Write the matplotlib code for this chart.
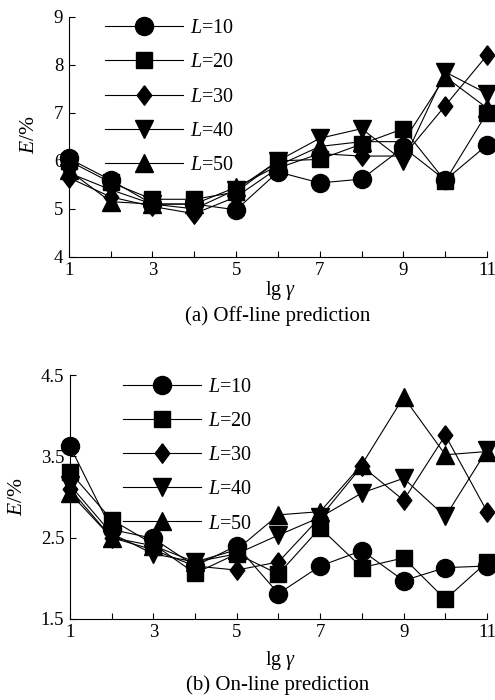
"""Prediction error E versus lg gamma for different L, off-line and on-line."""

import matplotlib
matplotlib.use("Agg")
import matplotlib.pyplot as plt

plt.rcParams['font.family'] = ['Liberation Serif', 'DejaVu Serif']
plt.rcParams['mathtext.fontset'] = 'custom'
plt.rcParams['mathtext.rm'] = 'Liberation Serif'
plt.rcParams['mathtext.it'] = 'Liberation Serif:italic'

# lg gamma values
lg_gamma = [1, 2, 3, 4, 5, 6, 7, 8, 9, 10, 11]
series_names = ['$L$=10', '$L$=20', '$L$=30', '$L$=40', '$L$=50']
# a diamond a bit taller than wide, like the reference
tall_diamond = [(0, 1), (0.75, 0), (0, -1), (-0.75, 0), (0, 1)]
markers = ['o', 's', tall_diamond, 'v', '^']
marker_sizes = [13, 12, 14, 13, 13]

# (a) off-line prediction error, %
offline_L10 = [6.05, 5.6, 5.1, 5.1, 4.98, 5.77, 5.54, 5.62, 6.28, 5.6, 6.33]
offline_L20 = [6.0, 5.55, 5.2, 5.2, 5.35, 6.0, 6.03, 6.35, 6.67, 5.58, 7.0]
offline_L30 = [5.65, 5.25, 5.05, 4.9, 5.25, 5.85, 6.15, 6.1, 6.1, 7.15, 8.2]
offline_L40 = [5.75, 5.4, 5.1, 5.0, 5.4, 6.0, 6.47, 6.67, 6.0, 7.85, 7.4]
offline_L50 = [5.8, 5.15, 5.1, 5.1, 5.45, 5.9, 6.3, 6.4, 6.4, 7.75, 7.1]

# (b) on-line prediction error, %
online_L10 = [3.63, 2.6, 2.49, 2.15, 2.4, 1.81, 2.15, 2.34, 1.97, 2.13, 2.15]
online_L20 = [3.31, 2.72, 2.42, 2.06, 2.3, 2.05, 2.62, 2.13, 2.25, 1.74, 2.2]
online_L30 = [3.1, 2.5, 2.35, 2.15, 2.1, 2.2, 2.75, 3.38, 2.96, 3.76, 2.82]
online_L40 = [3.15, 2.55, 2.3, 2.2, 2.3, 2.53, 2.75, 3.05, 3.23, 2.76, 3.58]
online_L50 = [3.05, 2.5, 2.4, 2.2, 2.35, 2.78, 2.82, 3.4, 4.23, 3.52, 3.56]

x_ticklabels = ['1', '', '3', '', '5', '', '7', '', '9', '', '11']


def draw_panel(ax, data, yticks, yticklabels, legend_anchor,
               ylabel_xy, xlabel_y):
    """Draw one panel with five L series."""
    for values, name, mk, ms in zip(data, series_names, markers,
                                    marker_sizes):
        ax.plot(lg_gamma, values, color='black', linewidth=0.8,
                marker=mk, markersize=ms, label=name, clip_on=False)
    ax.set_xlim(1, 11)
    ax.set_ylim(yticks[0], yticks[-1])
    ax.set_xticks(lg_gamma)
    ax.set_xticklabels(x_ticklabels)
    ax.set_yticks(yticks)
    ax.set_yticklabels(yticklabels)
    ax.tick_params(direction='in', length=4, width=0.8, labelsize=13.5,
                   pad=4)
    ax.spines['top'].set_visible(False)
    ax.spines['right'].set_visible(False)
    ax.spines['left'].set_linewidth(0.8)
    ax.spines['bottom'].set_linewidth(0.8)

    ax.set_xlabel(r'lg $\gamma$', fontsize=14.5)
    ax.xaxis.set_label_coords(0.505, xlabel_y)
    ax.xaxis.label.set_va('center')
    ax.set_ylabel('$E$/%', fontsize=15.5)
    ax.yaxis.set_label_coords(*ylabel_xy)
    ax.yaxis.label.set_va('center')

    ax.legend(loc='upper left', bbox_to_anchor=legend_anchor,
              frameon=False, fontsize=14.5, handlelength=3.9,
              labelspacing=0.75, borderpad=0, borderaxespad=0,
              handletextpad=0.35)


fig = plt.figure(figsize=(4.95, 7.0), dpi=100)

ax1 = fig.add_axes([0.139, 0.633, 0.845, 0.343])
draw_panel(ax1, [offline_L10, offline_L20, offline_L30, offline_L40,
                 offline_L50],
           [4, 5, 6, 7, 8, 9], ['4', '5', '6', '7', '8', '9'],
           (0.086, 0.99), (-0.094, 0.508), -0.142)
fig.text(0.56, 0.549, '(a) Off-line prediction', ha='center',
         va='center', fontsize=15)

ax2 = fig.add_axes([0.141, 0.116, 0.843, 0.348])
draw_panel(ax2, [online_L10, online_L20, online_L30, online_L40,
                 online_L50],
           [1.5, 2.5, 3.5, 4.5], ['1.5', '2.5', '3.5', '4.5'],
           (0.127, 0.99), (-0.125, 0.5), -0.172)
fig.text(0.56, 0.021, '(b) On-line prediction', ha='center',
         va='center', fontsize=15)

plt.savefig('out.png', dpi=100)
